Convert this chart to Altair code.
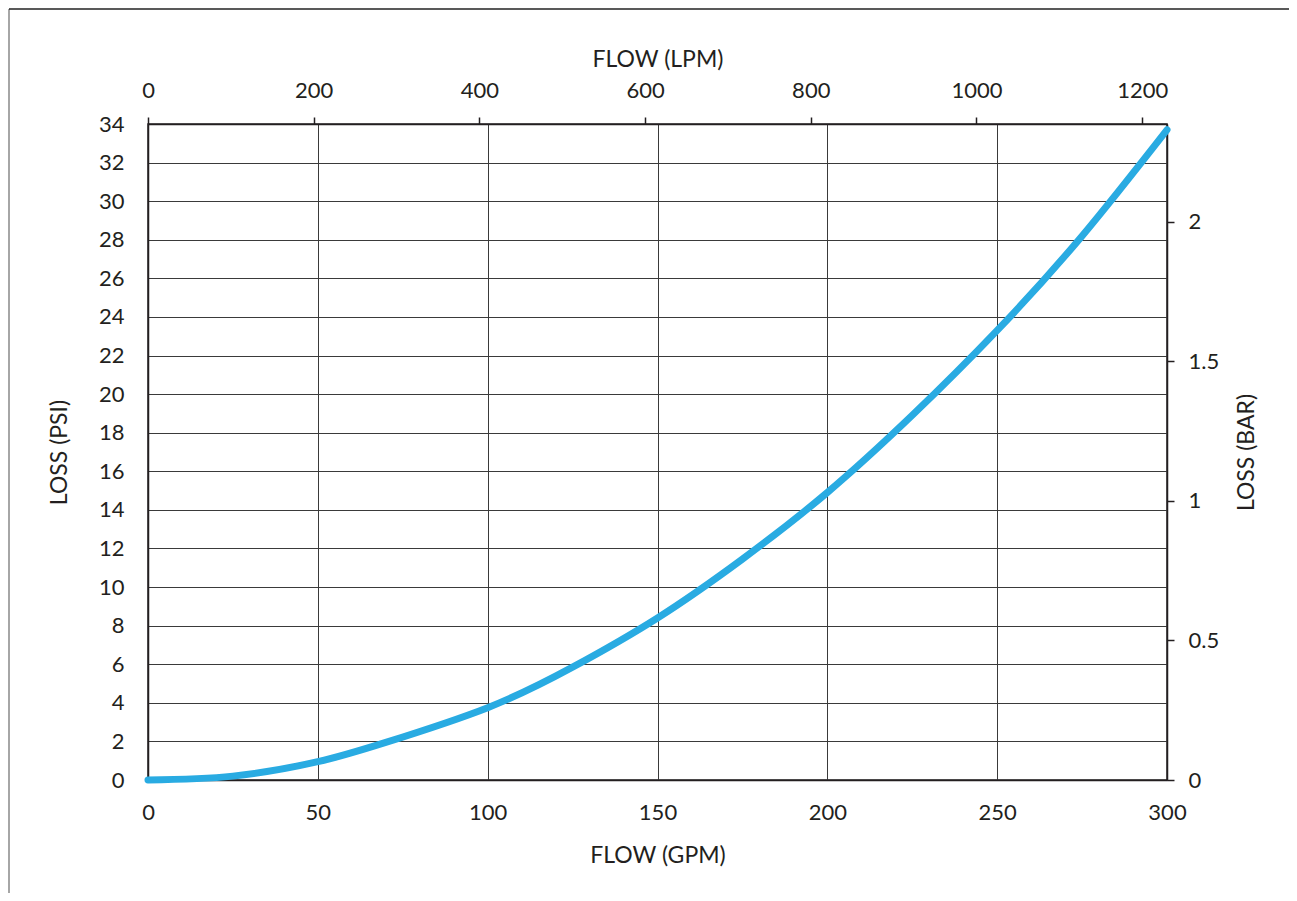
import altair as alt
import pandas as pd

# Flow (GPM) vs pressure loss (PSI)
gpm = [0, 25, 50, 70, 100, 125, 150, 175, 200, 225, 250, 275, 300]
psi = [0, 0.2, 0.95, 1.95, 3.75, 5.85, 8.4, 11.45, 14.9, 18.9, 23.3, 28.2, 33.7]

# secondary axes
lpm_range = [0, 1230]
bar_range = [0, 2.35]
lpm_ticks = [0, 200, 400, 600, 800, 1000, 1200]
bar_ticks = [0, 0.5, 1, 1.5, 2]
gpm_ticks = [0, 50, 100, 150, 200, 250, 300]
psi_ticks = list(range(0, 35, 2))

W, H = 1019, 656
FONT = "Lato"
TXT = "#231f20"

df = pd.DataFrame({"gpm": gpm, "psi": psi})
df2 = pd.DataFrame({"lpm": lpm_range, "bar": bar_range})

main = alt.Chart(df).mark_line(
    color="#29abe2", strokeWidth=7, strokeCap="round", interpolate="natural"
).encode(
    x=alt.X("gpm:Q", scale=alt.Scale(domain=[0, 300], nice=False),
            axis=alt.Axis(orient="bottom", values=gpm_ticks, title="FLOW (GPM)",
                          grid=True, tickSize=0, labelPadding=22, titlePadding=21)),
    y=alt.Y("psi:Q", scale=alt.Scale(domain=[0, 34], nice=False),
            axis=alt.Axis(orient="left", values=psi_ticks, title="LOSS (PSI)",
                          grid=True, tickSize=0, labelPadding=24, titlePadding=27)),
)

secondary = alt.Chart(df2).mark_point(opacity=0).encode(
    x=alt.X("lpm:Q", scale=alt.Scale(domain=lpm_range, nice=False),
            axis=alt.Axis(orient="top", values=lpm_ticks, title="FLOW (LPM)", format="d",
                          grid=False, tickSize=7, labelPadding=15, titlePadding=8)),
    y=alt.Y("bar:Q", scale=alt.Scale(domain=bar_range, nice=False),
            axis=alt.Axis(orient="right", values=bar_ticks, title="LOSS (BAR)", format="~g",
                          grid=False, tickSize=7, labelPadding=14, titlePadding=40,
                          titleAngle=270)),
)

frame_df = pd.DataFrame({"k": [0]})
frame_left = alt.Chart(frame_df).mark_rule(color="#888888", strokeWidth=1.5).encode(
    x=alt.value(-139), y=alt.value(-115), y2=alt.value(H + 113))
frame_top = alt.Chart(frame_df).mark_rule(color="#222222", strokeWidth=1.5).encode(
    x=alt.value(-139), x2=alt.value(W + 122), y=alt.value(-115))

chart = alt.layer(frame_left, frame_top, main, secondary).resolve_scale(
    x="independent", y="independent"
).properties(
    width=W, height=H,
    autosize=alt.AutoSizeParams(type="none"),
    padding={"left": 140, "top": 116, "right": 122, "bottom": 113},
).configure_axis(
    labelFont=FONT, titleFont=FONT, labelFontSize=22, titleFontSize=23,
    titleFontWeight="normal", labelColor=TXT, titleColor=TXT,
    labelFlush=False, labelOverlap=False,
    domainColor="#231f20", domainWidth=1.5, tickColor="#231f20", tickWidth=1.5,
    gridColor="#3a3a3a", gridWidth=1, gridOpacity=1,
).configure_view(stroke="#231f20", strokeWidth=1.5)

chart.save("out.html", embed_options={"renderer": "svg", "actions": False})
